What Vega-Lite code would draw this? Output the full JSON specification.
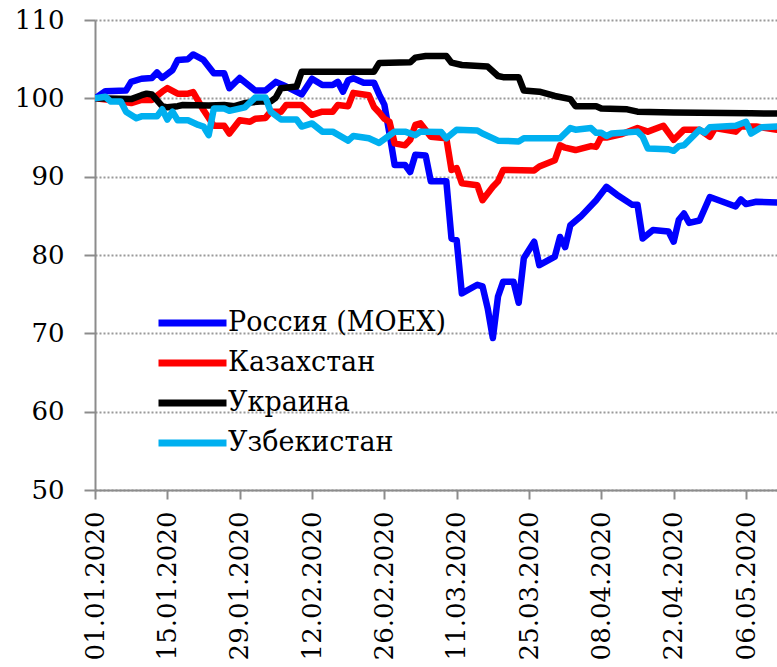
{
  "$schema": "https://vega.github.io/schema/vega-lite/v6.json",
  "width": 682,
  "height": 470,
  "autosize": {"type": "none"},
  "padding": {"left": 95, "top": 20, "right": 0, "bottom": 177},
  "background": "white",
  "config": {"view": {"stroke": null}, "font": "DejaVu Serif"},
  "data": {"values": [
    {"s":"Россия (MOEX)","d":"2020-01-01","v":100},
    {"s":"Россия (MOEX)","d":"2020-01-03","v":100.9},
    {"s":"Россия (MOEX)","d":"2020-01-07","v":101},
    {"s":"Россия (MOEX)","d":"2020-01-08","v":102.1},
    {"s":"Россия (MOEX)","d":"2020-01-10","v":102.5},
    {"s":"Россия (MOEX)","d":"2020-01-12","v":102.6},
    {"s":"Россия (MOEX)","d":"2020-01-13","v":103.3},
    {"s":"Россия (MOEX)","d":"2020-01-14","v":102.6},
    {"s":"Россия (MOEX)","d":"2020-01-16","v":103.6},
    {"s":"Россия (MOEX)","d":"2020-01-17","v":104.9},
    {"s":"Россия (MOEX)","d":"2020-01-19","v":105},
    {"s":"Россия (MOEX)","d":"2020-01-20","v":105.6},
    {"s":"Россия (MOEX)","d":"2020-01-22","v":104.9},
    {"s":"Россия (MOEX)","d":"2020-01-24","v":103.2},
    {"s":"Россия (MOEX)","d":"2020-01-26","v":103.2},
    {"s":"Россия (MOEX)","d":"2020-01-27","v":101.3},
    {"s":"Россия (MOEX)","d":"2020-01-29","v":102.6},
    {"s":"Россия (MOEX)","d":"2020-02-01","v":101},
    {"s":"Россия (MOEX)","d":"2020-02-03","v":101},
    {"s":"Россия (MOEX)","d":"2020-02-05","v":102.1},
    {"s":"Россия (MOEX)","d":"2020-02-07","v":101.5},
    {"s":"Россия (MOEX)","d":"2020-02-10","v":100.5},
    {"s":"Россия (MOEX)","d":"2020-02-12","v":102.5},
    {"s":"Россия (MOEX)","d":"2020-02-14","v":101.7},
    {"s":"Россия (MOEX)","d":"2020-02-16","v":101.7},
    {"s":"Россия (MOEX)","d":"2020-02-17","v":102.1},
    {"s":"Россия (MOEX)","d":"2020-02-18","v":100.85},
    {"s":"Россия (MOEX)","d":"2020-02-19","v":102.3},
    {"s":"Россия (MOEX)","d":"2020-02-20","v":102.55},
    {"s":"Россия (MOEX)","d":"2020-02-22","v":102},
    {"s":"Россия (MOEX)","d":"2020-02-24","v":102},
    {"s":"Россия (MOEX)","d":"2020-02-25","v":100.5},
    {"s":"Россия (MOEX)","d":"2020-02-26","v":99.2},
    {"s":"Россия (MOEX)","d":"2020-02-27","v":95.5},
    {"s":"Россия (MOEX)","d":"2020-02-28","v":91.5},
    {"s":"Россия (MOEX)","d":"2020-03-01","v":91.5},
    {"s":"Россия (MOEX)","d":"2020-03-02","v":90.6},
    {"s":"Россия (MOEX)","d":"2020-03-03","v":92.8},
    {"s":"Россия (MOEX)","d":"2020-03-05","v":92.7},
    {"s":"Россия (MOEX)","d":"2020-03-06","v":89.4},
    {"s":"Россия (MOEX)","d":"2020-03-09","v":89.4},
    {"s":"Россия (MOEX)","d":"2020-03-10","v":82.1},
    {"s":"Россия (MOEX)","d":"2020-03-11","v":81.9},
    {"s":"Россия (MOEX)","d":"2020-03-12","v":75.1},
    {"s":"Россия (MOEX)","d":"2020-03-15","v":76.2},
    {"s":"Россия (MOEX)","d":"2020-03-16","v":76},
    {"s":"Россия (MOEX)","d":"2020-03-17","v":73.2},
    {"s":"Россия (MOEX)","d":"2020-03-18","v":69.4},
    {"s":"Россия (MOEX)","d":"2020-03-19","v":74.7},
    {"s":"Россия (MOEX)","d":"2020-03-20","v":76.6},
    {"s":"Россия (MOEX)","d":"2020-03-22","v":76.6},
    {"s":"Россия (MOEX)","d":"2020-03-23","v":73.9},
    {"s":"Россия (MOEX)","d":"2020-03-24","v":79.6},
    {"s":"Россия (MOEX)","d":"2020-03-26","v":81.7},
    {"s":"Россия (MOEX)","d":"2020-03-27","v":78.7},
    {"s":"Россия (MOEX)","d":"2020-03-30","v":79.8},
    {"s":"Россия (MOEX)","d":"2020-03-31","v":82.3},
    {"s":"Россия (MOEX)","d":"2020-04-01","v":81},
    {"s":"Россия (MOEX)","d":"2020-04-02","v":83.8},
    {"s":"Россия (MOEX)","d":"2020-04-04","v":84.9},
    {"s":"Россия (MOEX)","d":"2020-04-07","v":87},
    {"s":"Россия (MOEX)","d":"2020-04-09","v":88.7},
    {"s":"Россия (MOEX)","d":"2020-04-11","v":87.7},
    {"s":"Россия (MOEX)","d":"2020-04-14","v":86.4},
    {"s":"Россия (MOEX)","d":"2020-04-15","v":86.4},
    {"s":"Россия (MOEX)","d":"2020-04-16","v":82.1},
    {"s":"Россия (MOEX)","d":"2020-04-18","v":83.2},
    {"s":"Россия (MOEX)","d":"2020-04-21","v":83},
    {"s":"Россия (MOEX)","d":"2020-04-22","v":81.7},
    {"s":"Россия (MOEX)","d":"2020-04-23","v":84.5},
    {"s":"Россия (MOEX)","d":"2020-04-24","v":85.3},
    {"s":"Россия (MOEX)","d":"2020-04-25","v":84.1},
    {"s":"Россия (MOEX)","d":"2020-04-27","v":84.4},
    {"s":"Россия (MOEX)","d":"2020-04-29","v":87.4},
    {"s":"Россия (MOEX)","d":"2020-05-04","v":86.2},
    {"s":"Россия (MOEX)","d":"2020-05-05","v":87.1},
    {"s":"Россия (MOEX)","d":"2020-05-06","v":86.5},
    {"s":"Россия (MOEX)","d":"2020-05-08","v":86.8},
    {"s":"Россия (MOEX)","d":"2020-05-12","v":86.7},

    {"s":"Казахстан","d":"2020-01-01","v":100},
    {"s":"Казахстан","d":"2020-01-04","v":99.8},
    {"s":"Казахстан","d":"2020-01-08","v":99.4},
    {"s":"Казахстан","d":"2020-01-10","v":99.8},
    {"s":"Казахстан","d":"2020-01-12","v":99.8},
    {"s":"Казахстан","d":"2020-01-14","v":100.85},
    {"s":"Казахстан","d":"2020-01-15","v":101.3},
    {"s":"Казахстан","d":"2020-01-17","v":100.6},
    {"s":"Казахстан","d":"2020-01-19","v":100.6},
    {"s":"Казахстан","d":"2020-01-20","v":100.8},
    {"s":"Казахстан","d":"2020-01-22","v":98.5},
    {"s":"Казахстан","d":"2020-01-24","v":96.5},
    {"s":"Казахстан","d":"2020-01-26","v":96.5},
    {"s":"Казахстан","d":"2020-01-27","v":95.5},
    {"s":"Казахстан","d":"2020-01-29","v":97.2},
    {"s":"Казахстан","d":"2020-01-31","v":97},
    {"s":"Казахстан","d":"2020-02-01","v":97.4},
    {"s":"Казахстан","d":"2020-02-03","v":97.5},
    {"s":"Казахстан","d":"2020-02-04","v":98.3},
    {"s":"Казахстан","d":"2020-02-06","v":98.3},
    {"s":"Казахстан","d":"2020-02-07","v":99.15},
    {"s":"Казахстан","d":"2020-02-10","v":99.15},
    {"s":"Казахстан","d":"2020-02-12","v":97.9},
    {"s":"Казахстан","d":"2020-02-14","v":98.3},
    {"s":"Казахстан","d":"2020-02-16","v":98.3},
    {"s":"Казахстан","d":"2020-02-17","v":99.15},
    {"s":"Казахстан","d":"2020-02-19","v":99},
    {"s":"Казахстан","d":"2020-02-20","v":100.7},
    {"s":"Казахстан","d":"2020-02-23","v":100.4},
    {"s":"Казахстан","d":"2020-02-24","v":98.9},
    {"s":"Казахстан","d":"2020-02-25","v":98.2},
    {"s":"Казахстан","d":"2020-02-26","v":97.4},
    {"s":"Казахстан","d":"2020-02-27","v":97},
    {"s":"Казахстан","d":"2020-02-28","v":94.25},
    {"s":"Казахстан","d":"2020-03-01","v":94},
    {"s":"Казахстан","d":"2020-03-02","v":94.7},
    {"s":"Казахстан","d":"2020-03-03","v":96.6},
    {"s":"Казахстан","d":"2020-03-04","v":96.8},
    {"s":"Казахстан","d":"2020-03-06","v":95.1},
    {"s":"Казахстан","d":"2020-03-09","v":94.9},
    {"s":"Казахстан","d":"2020-03-10","v":90.85},
    {"s":"Казахстан","d":"2020-03-11","v":91.1},
    {"s":"Казахстан","d":"2020-03-12","v":89.15},
    {"s":"Казахстан","d":"2020-03-15","v":88.9},
    {"s":"Казахстан","d":"2020-03-16","v":87},
    {"s":"Казахстан","d":"2020-03-18","v":88.7},
    {"s":"Казахстан","d":"2020-03-19","v":89.4},
    {"s":"Казахстан","d":"2020-03-20","v":90.85},
    {"s":"Казахстан","d":"2020-03-26","v":90.8},
    {"s":"Казахстан","d":"2020-03-27","v":91.3},
    {"s":"Казахстан","d":"2020-03-30","v":92.1},
    {"s":"Казахстан","d":"2020-03-31","v":94},
    {"s":"Казахстан","d":"2020-04-01","v":93.7},
    {"s":"Казахстан","d":"2020-04-03","v":93.4},
    {"s":"Казахстан","d":"2020-04-06","v":93.9},
    {"s":"Казахстан","d":"2020-04-07","v":93.8},
    {"s":"Казахстан","d":"2020-04-08","v":95.1},
    {"s":"Казахстан","d":"2020-04-09","v":95},
    {"s":"Казахстан","d":"2020-04-12","v":95.45},
    {"s":"Казахстан","d":"2020-04-15","v":96.2},
    {"s":"Казахстан","d":"2020-04-17","v":95.75},
    {"s":"Казахстан","d":"2020-04-20","v":96.5},
    {"s":"Казахстан","d":"2020-04-22","v":94.7},
    {"s":"Казахстан","d":"2020-04-24","v":96},
    {"s":"Казахстан","d":"2020-04-27","v":96},
    {"s":"Казахстан","d":"2020-04-29","v":95.1},
    {"s":"Казахстан","d":"2020-04-30","v":96.2},
    {"s":"Казахстан","d":"2020-05-04","v":95.75},
    {"s":"Казахстан","d":"2020-05-05","v":96.4},
    {"s":"Казахстан","d":"2020-05-08","v":96.4},
    {"s":"Казахстан","d":"2020-05-12","v":96},

    {"s":"Украина","d":"2020-01-01","v":100},
    {"s":"Украина","d":"2020-01-08","v":99.9},
    {"s":"Украина","d":"2020-01-10","v":100.4},
    {"s":"Украина","d":"2020-01-11","v":100.6},
    {"s":"Украина","d":"2020-01-12","v":100.5},
    {"s":"Украина","d":"2020-01-14","v":99},
    {"s":"Украина","d":"2020-01-15","v":98.85},
    {"s":"Украина","d":"2020-01-17","v":99},
    {"s":"Украина","d":"2020-01-18","v":99.15},
    {"s":"Украина","d":"2020-01-23","v":99.1},
    {"s":"Украина","d":"2020-01-26","v":99.15},
    {"s":"Украина","d":"2020-01-28","v":99},
    {"s":"Украина","d":"2020-01-30","v":99.4},
    {"s":"Украина","d":"2020-02-02","v":99.6},
    {"s":"Украина","d":"2020-02-04","v":99.6},
    {"s":"Украина","d":"2020-02-05","v":100.1},
    {"s":"Украина","d":"2020-02-06","v":101.3},
    {"s":"Украина","d":"2020-02-09","v":101.5},
    {"s":"Украина","d":"2020-02-10","v":103.4},
    {"s":"Украина","d":"2020-02-24","v":103.4},
    {"s":"Украина","d":"2020-02-25","v":104.5},
    {"s":"Украина","d":"2020-03-02","v":104.6},
    {"s":"Украина","d":"2020-03-03","v":105.2},
    {"s":"Украина","d":"2020-03-05","v":105.4},
    {"s":"Украина","d":"2020-03-09","v":105.4},
    {"s":"Украина","d":"2020-03-10","v":104.55},
    {"s":"Украина","d":"2020-03-12","v":104.25},
    {"s":"Украина","d":"2020-03-17","v":104.05},
    {"s":"Украина","d":"2020-03-19","v":102.85},
    {"s":"Украина","d":"2020-03-20","v":102.7},
    {"s":"Украина","d":"2020-03-23","v":102.7},
    {"s":"Украина","d":"2020-03-24","v":101},
    {"s":"Украина","d":"2020-03-27","v":100.85},
    {"s":"Украина","d":"2020-03-30","v":100.3},
    {"s":"Украина","d":"2020-04-02","v":99.9},
    {"s":"Украина","d":"2020-04-03","v":99},
    {"s":"Украина","d":"2020-04-07","v":99},
    {"s":"Украина","d":"2020-04-08","v":98.7},
    {"s":"Украина","d":"2020-04-13","v":98.6},
    {"s":"Украина","d":"2020-04-15","v":98.3},
    {"s":"Украина","d":"2020-04-22","v":98.2},
    {"s":"Украина","d":"2020-05-07","v":98.1},
    {"s":"Украина","d":"2020-05-12","v":98.05},

    {"s":"Узбекистан","d":"2020-01-01","v":100},
    {"s":"Узбекистан","d":"2020-01-03","v":100.2},
    {"s":"Узбекистан","d":"2020-01-04","v":99.6},
    {"s":"Узбекистан","d":"2020-01-06","v":99.6},
    {"s":"Узбекистан","d":"2020-01-07","v":98.3},
    {"s":"Узбекистан","d":"2020-01-09","v":97.45},
    {"s":"Узбекистан","d":"2020-01-10","v":97.7},
    {"s":"Узбекистан","d":"2020-01-13","v":97.7},
    {"s":"Узбекистан","d":"2020-01-14","v":98.6},
    {"s":"Узбекистан","d":"2020-01-15","v":97.3},
    {"s":"Узбекистан","d":"2020-01-16","v":98.3},
    {"s":"Узбекистан","d":"2020-01-17","v":97.2},
    {"s":"Узбекистан","d":"2020-01-19","v":97.2},
    {"s":"Узбекистан","d":"2020-01-21","v":96.6},
    {"s":"Узбекистан","d":"2020-01-22","v":96.4},
    {"s":"Узбекистан","d":"2020-01-23","v":95.3},
    {"s":"Узбекистан","d":"2020-01-24","v":98.7},
    {"s":"Узбекистан","d":"2020-01-26","v":98.7},
    {"s":"Узбекистан","d":"2020-01-27","v":98.4},
    {"s":"Узбекистан","d":"2020-01-30","v":98.85},
    {"s":"Узбекистан","d":"2020-02-01","v":100.1},
    {"s":"Узбекистан","d":"2020-02-03","v":100.1},
    {"s":"Узбекистан","d":"2020-02-04","v":98.3},
    {"s":"Узбекистан","d":"2020-02-06","v":97.3},
    {"s":"Узбекистан","d":"2020-02-09","v":97.3},
    {"s":"Узбекистан","d":"2020-02-10","v":96.4},
    {"s":"Узбекистан","d":"2020-02-12","v":96.8},
    {"s":"Узбекистан","d":"2020-02-14","v":95.75},
    {"s":"Узбекистан","d":"2020-02-16","v":95.75},
    {"s":"Узбекистан","d":"2020-02-19","v":94.6},
    {"s":"Узбекистан","d":"2020-02-20","v":95.2},
    {"s":"Узбекистан","d":"2020-02-21","v":95.1},
    {"s":"Узбекистан","d":"2020-02-23","v":94.9},
    {"s":"Узбекистан","d":"2020-02-25","v":94.3},
    {"s":"Узбекистан","d":"2020-02-28","v":95.75},
    {"s":"Узбекистан","d":"2020-03-01","v":95.75},
    {"s":"Узбекистан","d":"2020-03-03","v":95.3},
    {"s":"Узбекистан","d":"2020-03-04","v":95.75},
    {"s":"Узбекистан","d":"2020-03-08","v":95.7},
    {"s":"Узбекистан","d":"2020-03-09","v":94.9},
    {"s":"Узбекистан","d":"2020-03-11","v":96},
    {"s":"Узбекистан","d":"2020-03-15","v":95.9},
    {"s":"Узбекистан","d":"2020-03-16","v":95.5},
    {"s":"Узбекистан","d":"2020-03-19","v":94.6},
    {"s":"Узбекистан","d":"2020-03-23","v":94.5},
    {"s":"Узбекистан","d":"2020-03-24","v":94.9},
    {"s":"Узбекистан","d":"2020-03-31","v":94.9},
    {"s":"Узбекистан","d":"2020-04-02","v":96.2},
    {"s":"Узбекистан","d":"2020-04-03","v":96},
    {"s":"Узбекистан","d":"2020-04-06","v":96.2},
    {"s":"Узбекистан","d":"2020-04-07","v":95.6},
    {"s":"Узбекистан","d":"2020-04-08","v":95.6},
    {"s":"Узбекистан","d":"2020-04-09","v":95.2},
    {"s":"Узбекистан","d":"2020-04-10","v":95.5},
    {"s":"Узбекистан","d":"2020-04-15","v":95.75},
    {"s":"Узбекистан","d":"2020-04-16","v":95.1},
    {"s":"Узбекистан","d":"2020-04-17","v":93.6},
    {"s":"Узбекистан","d":"2020-04-21","v":93.5},
    {"s":"Узбекистан","d":"2020-04-22","v":93.3},
    {"s":"Узбекистан","d":"2020-04-23","v":93.9},
    {"s":"Узбекистан","d":"2020-04-24","v":94},
    {"s":"Узбекистан","d":"2020-04-27","v":96},
    {"s":"Узбекистан","d":"2020-04-28","v":95.6},
    {"s":"Узбекистан","d":"2020-04-29","v":96.3},
    {"s":"Узбекистан","d":"2020-05-04","v":96.5},
    {"s":"Узбекистан","d":"2020-05-06","v":97},
    {"s":"Узбекистан","d":"2020-05-07","v":95.5},
    {"s":"Узбекистан","d":"2020-05-09","v":96.3},
    {"s":"Узбекистан","d":"2020-05-12","v":96.4}
  ]},
  "mark": {"type": "line", "strokeWidth": 6.5, "strokeJoin": "round", "strokeCap": "round", "clip": true},
  "encoding": {
    "x": {
      "field": "d", "type": "temporal",
      "scale": {"type": "utc", "domain": [
        {"year": 2020, "month": 1, "date": 1, "utc": true},
        {"year": 2020, "month": 5, "date": 12, "utc": true}
      ]},
      "axis": {
        "title": null,
        "values": [
          {"year": 2020, "month": 1, "date": 1, "utc": true},
          {"year": 2020, "month": 1, "date": 15, "utc": true},
          {"year": 2020, "month": 1, "date": 29, "utc": true},
          {"year": 2020, "month": 2, "date": 12, "utc": true},
          {"year": 2020, "month": 2, "date": 26, "utc": true},
          {"year": 2020, "month": 3, "date": 11, "utc": true},
          {"year": 2020, "month": 3, "date": 25, "utc": true},
          {"year": 2020, "month": 4, "date": 8, "utc": true},
          {"year": 2020, "month": 4, "date": 22, "utc": true},
          {"year": 2020, "month": 5, "date": 6, "utc": true}
        ],
        "labelExpr": "utcFormat(datum.value, '%d.%m.%Y')",
        "labelAngle": 270, "labelFont": "DejaVu Serif", "labelFontSize": 26, "labelColor": "#000000",
        "labelPadding": 12, "labelOverlap": false, "labelFlush": false,
        "grid": false, "domainColor": "#8c8c8c", "domainWidth": 2,
        "tickColor": "#8c8c8c", "tickWidth": 2, "tickSize": 9
      }
    },
    "y": {
      "field": "v", "type": "quantitative",
      "scale": {"domain": [50, 110], "nice": false, "zero": false},
      "axis": {
        "title": null, "values": [50, 60, 70, 80, 90, 100, 110],
        "labelFont": "DejaVu Serif", "labelFontSize": 26, "labelColor": "#000000",
        "labelPadding": 20,
        "domainColor": "#8c8c8c", "domainWidth": 2,
        "tickColor": "#8c8c8c", "tickWidth": 2, "tickSize": 11,
        "grid": true, "gridColor": "#9a9a9a", "gridWidth": 2, "gridDash": [2, 2]
      }
    },
    "color": {
      "field": "s", "type": "nominal",
      "scale": {
        "domain": ["Россия (MOEX)", "Казахстан", "Украина", "Узбекистан"],
        "range": ["#0000FF", "#FF0000", "#000000", "#00B0F0"]
      },
      "legend": {
        "title": null, "orient": "none", "legendX": 60, "legendY": 283,
        "padding": 0, "symbolType": "stroke", "symbolSize": 4624, "symbolStrokeWidth": 7,
        "clipHeight": 40, "rowPadding": 0, "labelOffset": -2,
        "labelFont": "DejaVu Serif", "labelFontSize": 27, "labelColor": "#000000", "labelLimit": 500
      }
    }
  }
}
